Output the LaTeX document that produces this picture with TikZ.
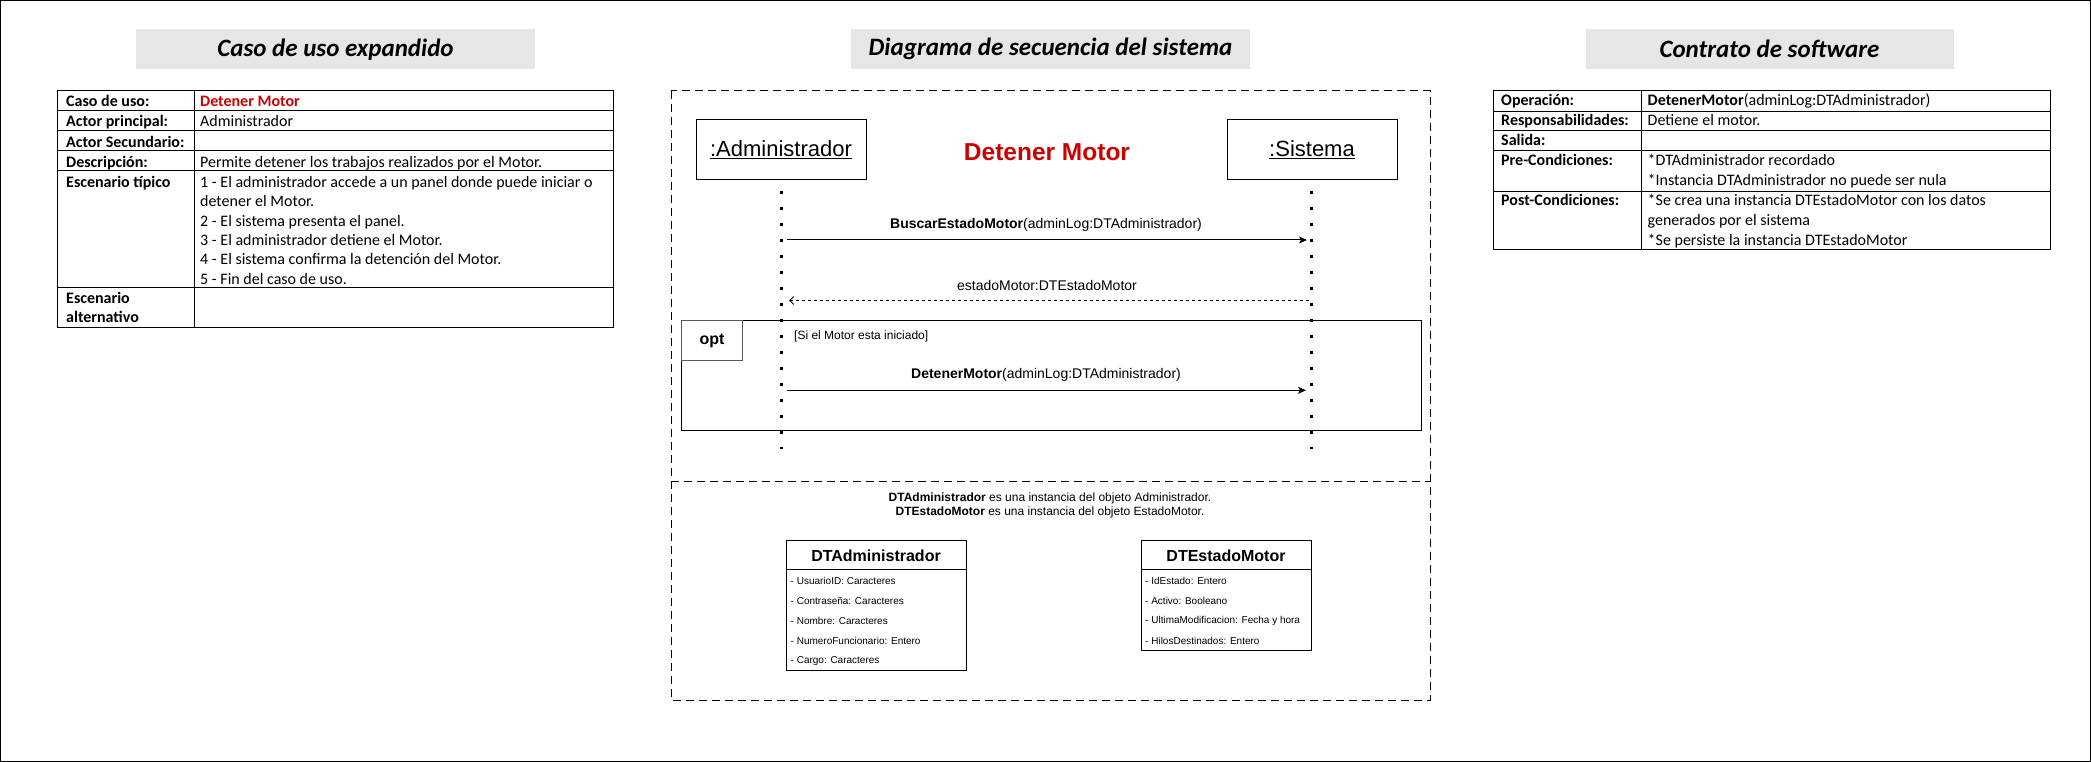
\documentclass[tikz,border=0pt]{standalone}
\usepackage{fontspec}
\setmainfont{Carlito}
\newfontfamily\arialf{Liberation Sans}
\usetikzlibrary{arrows.meta}
\definecolor{titlegray}{RGB}{230,230,230}
\definecolor{redtxt}{RGB}{204,0,0}
\begin{document}
\begin{tikzpicture}[x=1pt,y=-1pt,
  tabline/.style={line width=1pt},
  cell/.style={anchor=base west, inner sep=0pt, font=\fontsize{16}{19.5}\selectfont},
  cellb/.style={anchor=base west, inner sep=0pt, font=\fontsize{16}{19.5}\selectfont\bfseries},
  titlebox/.style={fill=titlegray, draw=none, inner sep=0pt, minimum width=399pt, minimum height=40pt,
     font=\fontsize{25}{29}\selectfont\bfseries\itshape},
  seqtxt/.style={inner sep=0pt, font=\arialf\fontsize{14}{16}\selectfont},
  msg/.style={line width=1pt, -{Stealth[length=8pt,width=7pt,inset=2pt]}},
  retmsg/.style={line width=1pt, dash pattern=on 3pt off 3pt, -{Straight Barb[length=4pt,width=8pt]}},
  lifeline/.style={line width=3pt, dash pattern=on 3pt off 13pt},
  framebox/.style={line width=1pt, dash pattern=on 8pt off 5pt},
  attr/.style={anchor=west, inner sep=0pt, font=\arialf\fontsize{10}{12}\selectfont},
  classhead/.style={inner sep=0pt, font=\arialf\fontsize{16}{18}\selectfont\bfseries}
]
\useasboundingbox (0,0) rectangle (2091,762);
\draw[line width=1.3pt] (0.65,0.65) rectangle (2090.35,761.35);

% ---------------- Left: Caso de uso expandido ----------------
\node[titlebox] (tleft) at (335.5,49.3) {Caso de uso expandido};
\draw[tabline] (57,90.5) rectangle (613,327);
\draw[tabline] (194,90.5) -- (194,327);
\foreach \yy in {111,131,151,171,287} \draw[tabline] (57,\yy) -- (613,\yy);
\node[cellb] (lc1) at (66,106.5) {Caso de uso:};
\node[cellb] (lc2) at (66,127) {Actor principal:};
\node[cellb] (lc3) at (66,147.3) {Actor Secundario:};
\node[cellb] (lc4) at (66,167.4) {Descripción:};
\node[cellb] (lc5) at (66,187.5) {Escenario típico};
\node[cellb] (lc6) at (66,303.7) {Escenario};
\node[cellb] (lc7) at (66,322.8) {alternativo};
\node[cellb, text=redtxt] (lv1) at (200,106.5) {Detener Motor};
\node[cell] (lv2) at (200,127) {Administrador};
\node[cell] (lv4) at (200,167.4) {Permite detener los trabajos realizados por el Motor.};
\foreach \t [count=\i] in {{1 - El administrador accede a un panel donde puede iniciar o},
  {detener el Motor.},{2 - El sistema presenta el panel.},{3 - El administrador detiene el Motor.},
  {4 - El sistema confirma la detención del Motor.},{5 - Fin del caso de uso.}}
  \node[cell] (esc\i) at (200,{187.5+(\i-1)*19.3}) {\t};

% ---------------- Middle: Diagrama de secuencia ----------------
\node[titlebox] (tmid) at (1050.5,49.3) {Diagrama de secuencia del sistema};
\draw[framebox] (671,91) rectangle (1430,700);
\draw[framebox] (671,481) -- (1430,481);

\node[draw, line width=1pt, minimum width=170pt, minimum height=60pt, inner sep=0pt,
  font=\arialf\fontsize{22}{24}\selectfont] (adm) at (781,150) {\underline{:Administrador}};
\node[draw, line width=1pt, minimum width=170pt, minimum height=60pt, inner sep=0pt,
  font=\arialf\fontsize{22}{24}\selectfont] (sis) at (1312,150) {\underline{:Sistema}};
\node[inner sep=0pt, text=redtxt, font=\arialf\fontsize{24.5}{26}\selectfont\bfseries] (dtitle) at (1047,152) {Detener Motor};

% opt fragment
\draw[line width=1pt] (681,320) rectangle (1421,430);
\node[draw=gray!70!black, line width=1pt, anchor=north west, minimum width=61pt, minimum height=40pt, inner sep=0pt,
  font=\arialf\fontsize{16}{18}\selectfont\bfseries] (opt) at (681,320) {opt};
\node[anchor=west, inner sep=0pt, font=\arialf\fontsize{12}{14}\selectfont] (guard) at (794,336) {[Si el Motor esta iniciado]};

% lifelines
\coordinate (admtop) at (781,190.8);
\coordinate (admbot) at (781,449);
\coordinate (sistop) at (1311,190.8);
\coordinate (sisbot) at (1311,449);
\draw[lifeline] (admtop) -- (admbot);
\draw[lifeline] (sistop) -- (sisbot);

% messages
\coordinate (m1a) at (787,240);
\coordinate (m1b) at (1307,240);
\draw[msg] (m1a) -- (m1b);
\node[seqtxt] (m1l) at (1046,225.3) {{\bfseries BuscarEstadoMotor}(adminLog:DTAdministrador)};

\coordinate (m2a) at (1309,300.5);
\coordinate (m2b) at (789,300.5);
\draw[retmsg] (m2a) -- (m2b);
\node[seqtxt] (m2l) at (1047,285.3) {estadoMotor:DTEstadoMotor};

\coordinate (m3a) at (787,390.3);
\coordinate (m3b) at (1306,390.3);
\draw[msg] (m3a) -- (m3b);
\node[seqtxt] (m3l) at (1046,375.3) {{\bfseries DetenerMotor}(adminLog:DTAdministrador)};

% notes
\node[inner sep=0pt, font=\arialf\fontsize{12}{14}\selectfont] (note1) at (1050,498.7)
  {{\bfseries DTAdministrador} es una instancia del objeto Administrador.};
\node[inner sep=0pt, font=\arialf\fontsize{12}{14}\selectfont] (note2) at (1050,512.7)
  {{\bfseries DTEstadoMotor} es una instancia del objeto EstadoMotor.};

% class DTAdministrador
\draw[line width=1pt] (786,540.3) rectangle (966,670.3);
\draw[line width=1pt] (786,569.7) -- (966,569.7);
\node[classhead] (cadm) at (876,556) {DTAdministrador};
\foreach \t [count=\i] in {{- UsuarioID: Caracteres},{- Contraseña: Caracteres},{- Nombre: Caracteres},
  {- NumeroFuncionario: Entero},{- Cargo: Caracteres}}
  \node[attr] (aadm\i) at (790.5,{580.7+(\i-1)*20.1}) {\t};

% class DTEstadoMotor
\draw[line width=1pt] (1141,540.3) rectangle (1311,650.3);
\draw[line width=1pt] (1141,569.7) -- (1311,569.7);
\node[classhead] (cest) at (1226,556) {DTEstadoMotor};
\foreach \t [count=\i] in {{- IdEstado: Entero},{- Activo: Booleano},{- UltimaModificacion: Fecha y hora},
  {- HilosDestinados: Entero}}
  \node[attr] (aest\i) at (1145,{580.7+(\i-1)*20.1}) {\t};

% ---------------- Right: Contrato de software ----------------
\node[titlebox, minimum width=368pt] (tright) at (1769.5,49.3) {Contrato de software};
\draw[tabline] (1493,90.5) rectangle (2050,250);
\draw[tabline] (1641.5,90.5) -- (1641.5,250);
\foreach \yy in {111.5,131,151,191.5} \draw[tabline] (1493,\yy) -- (2050,\yy);
\node[cellb] (rc1) at (1501,106) {Operación:};
\node[cellb] (rc2) at (1501,126) {Responsabilidades:};
\node[cellb] (rc3) at (1501,145.5) {Salida:};
\node[cellb] (rc4) at (1501,165.7) {Pre-Condiciones:};
\node[cellb] (rc5) at (1501,206) {Post-Condiciones:};
\node[cell] (rv1) at (1647.5,106) {{\bfseries DetenerMotor}(adminLog:DTAdministrador)};
\node[cell] (rv2) at (1647.5,126) {Detiene el motor.};
\node[cell] (rv4a) at (1647.5,165.7) {*DTAdministrador recordado};
\node[cell] (rv4b) at (1647.5,185.2) {*Instancia DTAdministrador no puede ser nula};
\node[cell] (rv5a) at (1647.5,206) {*Se crea una instancia DTEstadoMotor con los datos};
\node[cell] (rv5b) at (1647.5,225.5) {generados por el sistema};
\node[cell] (rv5c) at (1647.5,245) {*Se persiste la instancia DTEstadoMotor};
\end{tikzpicture}
\end{document}
